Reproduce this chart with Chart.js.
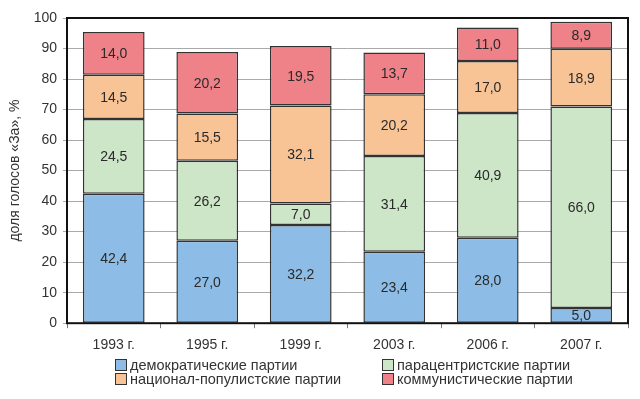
<!DOCTYPE html>
<html>
<head>
<meta charset="utf-8">
<script src="https://cdn.jsdelivr.net/npm/chart.js@4"></script>
<style>
  html, body { margin:0; padding:0; background:#fff; }
  #wrap { position:relative; width:640px; height:399px; }
  #legend { position:absolute; left:0; top:0; font-family:"Liberation Sans", Arial, sans-serif; font-size:14.5px; color:#333; }
  .item { position:absolute; white-space:nowrap; line-height:16px; }
  .item i { display:inline-block; width:10px; height:10px; border:1px solid #333; margin-right:3px; vertical-align:-1px; }
</style>
</head>
<body>
<div id="wrap">
  <canvas id="c" width="640" height="399"></canvas>
  <div id="legend"></div>
</div>
<script>
const years = ['1993 г.', '1995 г.', '1999 г.', '2003 г.', '2006 г.', '2007 г.'];
const democratic = [42.4, 27.0, 32.2, 23.4, 28.0, 5.0];
const paracentrist = [24.5, 26.2, 7.0, 31.4, 40.9, 66.0];
const nationalPopulist = [14.5, 15.5, 32.1, 20.2, 17.0, 18.9];
const communist = [14.0, 20.2, 19.5, 13.7, 11.0, 8.9];
const seriesNames = ['демократические партии', 'парацентристские партии', 'национал-популистские партии', 'коммунистические партии'];
const yTicks = [0, 10, 20, 30, 40, 50, 60, 70, 80, 90, 100];

const colors = ['#8dbde6', '#cde6c8', '#f8c496', '#ee8288'];
const font = '"Liberation Sans", Arial, sans-serif';

// values inside the bar segments, plus the thick frame round the plot
const segLabels = {
  id: 'segLabels',
  afterDatasetsDraw(chart) {
    const c = chart.ctx;
    c.save();
    c.font = '14px ' + font;
    c.fillStyle = '#2a2a2a';
    c.textAlign = 'center';
    c.textBaseline = 'middle';
    chart.data.datasets.forEach((ds, i) => {
      chart.getDatasetMeta(i).data.forEach((bar, j) => {
        const p = bar.getProps(['x', 'y', 'base'], true);
        c.fillText(ds.data[j].toFixed(1).replace('.', ','), p.x, (p.y + p.base) / 2 + 1);
      });
    });
    const a = chart.chartArea;
    c.lineWidth = 2;
    c.strokeStyle = '#111';
    c.strokeRect(a.left, a.top, a.right - a.left, a.bottom - a.top);
    c.restore();
  }
};

new Chart(document.getElementById('c'), {
  type: 'bar',
  data: {
    labels: years,
    datasets: [democratic, paracentrist, nationalPopulist, communist].map((d, i) => ({
      label: seriesNames[i], data: d, backgroundColor: colors[i],
      borderColor: '#333', borderWidth: 1.5, borderSkipped: false,
      categoryPercentage: 0.66, barPercentage: 1
    }))
  },
  options: {
    responsive: false, animation: false,
    layout: { padding: { left: 7, right: 12, top: 18, bottom: 36 } },
    plugins: { legend: { display: false }, tooltip: { enabled: false } },
    scales: {
      x: {
        stacked: true,
        grid: { offset: true, drawOnChartArea: false, color: '#777', tickLength: 5 },
        border: { display: false },
        ticks: { color: '#333', font: { family: font, size: 14 }, padding: 9 }
      },
      y: {
        stacked: true, min: 0, max: 100,
        afterBuildTicks: s => { s.ticks = yTicks.map(v => ({ value: v })); },
        afterFit: s => { s.width = 60; },
        grid: { color: '#aaa', tickLength: 4 },
        border: { display: false },
        ticks: { color: '#333', font: { family: font, size: 14 }, padding: 6 },
        title: { display: true, text: 'доля голосов «За», %', color: '#333', font: { family: font, size: 14 }, padding: 0 }
      }
    }
  },
  plugins: [segLabels]
});

// two-column legend under the chart
const pos = [[115, 357], [382, 357], [115, 371], [382, 371]];
document.getElementById('legend').innerHTML = seriesNames.map((name, i) =>
  `<div class="item" style="left:${pos[i][0]}px;top:${pos[i][1]}px"><i style="background:${colors[i]}"></i>${name}</div>`
).join('');
</script>
</body>
</html>
